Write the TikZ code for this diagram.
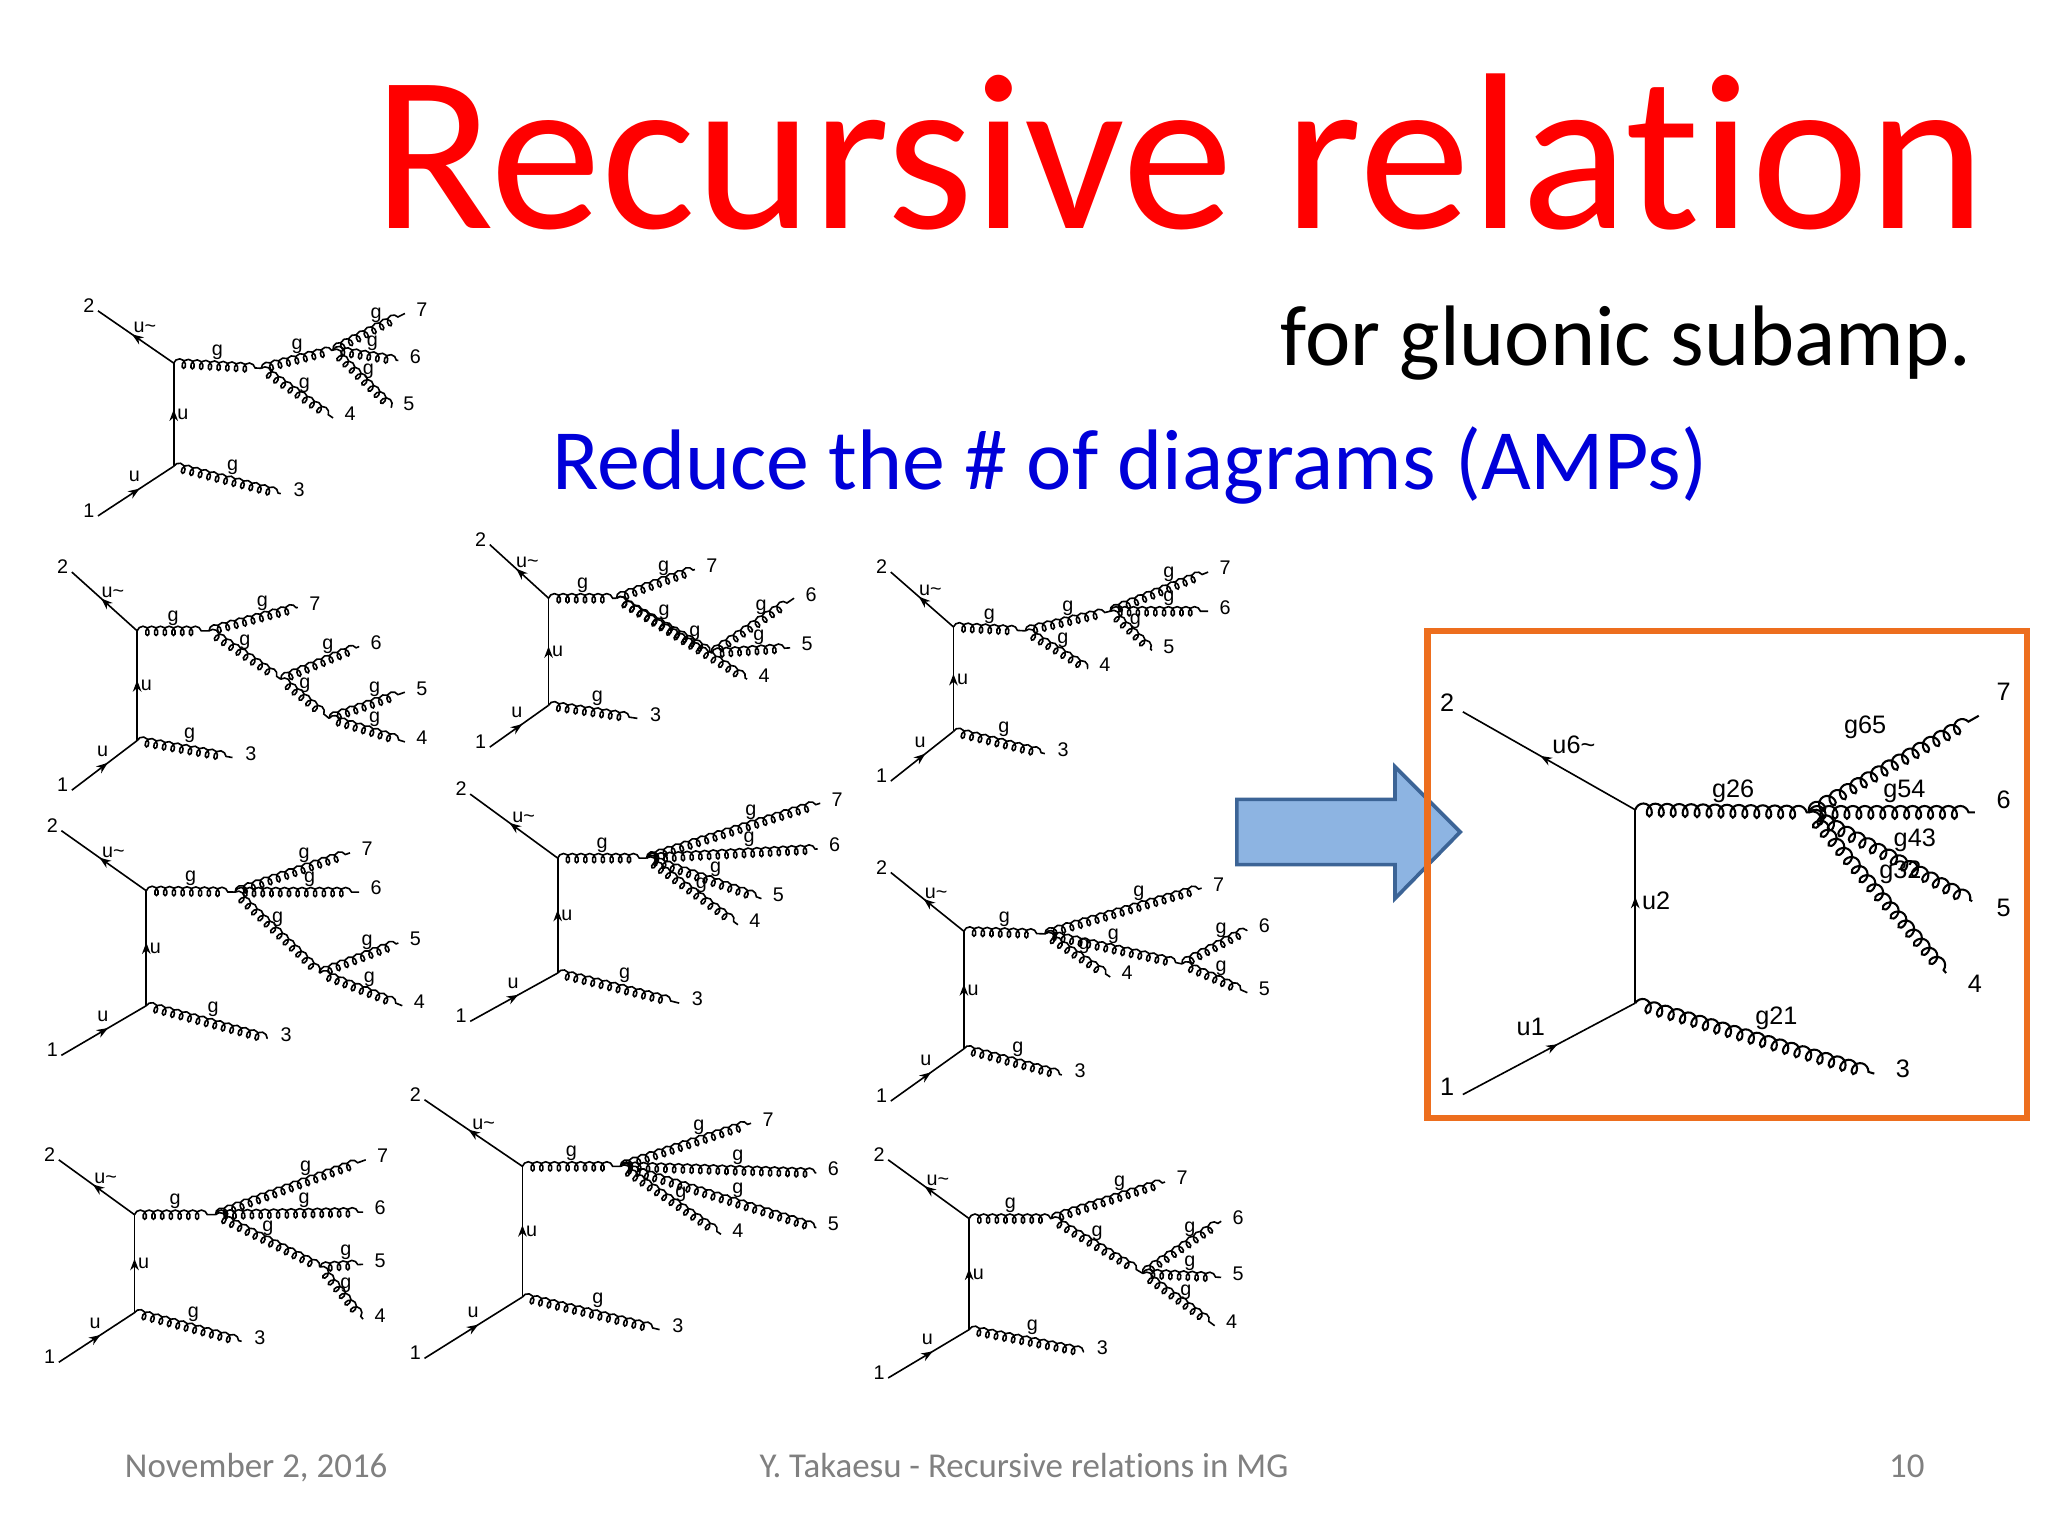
\documentclass[tikz,border=0pt]{standalone}
\usepackage{fontspec}
\setmainfont{Carlito}[Ligatures=NoCommon]
\newfontfamily\lab{Liberation Sans}
\usetikzlibrary{decorations.pathmorphing,decorations.markings,arrows.meta,calc}
\definecolor{boxor}{RGB}{237,110,30}
\definecolor{arrfill}{RGB}{141,180,226}
\definecolor{arrdraw}{RGB}{60,100,150}
\tikzset{
 gl/.style={decorate,decoration={coil,amplitude=1pt,segment length=1.9pt,aspect=0.8},line width=0.35pt},
 glb/.style={decorate,decoration={coil,amplitude=1.4pt,segment length=2.6pt,aspect=0.8},line width=0.45pt},
 fe/.style={line width=0.35pt,postaction={decorate},decoration={markings,mark=at position .55 with {\arrow{Stealth[length=2.5pt]}}}},
 lb/.style={font=\lab\fontsize{4.3}{5}\selectfont,inner sep=0pt},
 lbb/.style={font=\lab\fontsize{5.5}{6}\selectfont,inner sep=0pt}
}
\newcommand\fd[5]{%
 \coordinate (P2) at (#1); \coordinate (B) at (#2); \coordinate (A) at (#3); \coordinate (P1) at (#4); \coordinate (P3) at (#5);
 \draw[fe] (B) -- (P2); \draw[fe] (A) -- (B); \draw[fe] (P1) -- (A); \draw[gl] (A) -- (P3);
 \node[lb] at ($(P2)+(-7,-4)$) {2}; \node[lb] at ($(P1)+(-7,-4)$) {1}; \node[lb] at ($(P3)+(14,-3)$) {3};
 \node[lb] at ($(P2)!0.55!(B)+(4,-9)$) {u\textasciitilde}; \node[lb] at ($(A)!0.5!(B)+(7,0)$) {u};
 \node[lb] at ($(P1)!0.55!(A)+(-4,-9)$) {u}; \node[lb] at ($(A)!0.55!(P3)+(0,-11)$) {g};}
\newcommand\glu[2]{\draw[gl] (#1) -- (#2); \node[lb] at ($(#1)!0.5!(#2)+(0,-10)$) {g};}
\newcommand\glx[3]{\draw[gl] (#1) -- (#2); \node[lb] at ($(#1)!0.6!(#2)+(0,-10)$) {g}; \node[lb] at ($(#2)+(13,-3)$) {#3};}
\begin{document}
\begin{tikzpicture}[x=0.01cm,y=-0.01cm]
\useasboundingbox[fill=white] (0,0) rectangle (1568,1176);
\node[text=red,font=\fontsize{48.5}{58}\selectfont,anchor=base west,inner sep=0] (title) at (285,175) {Recursive relation};
\node[font=\fontsize{18.7}{22}\selectfont,anchor=base east,inner sep=0] (sub) at (1510,280) {for gluonic subamp.};
\node[text=blue!85!black,font=\fontsize{18.7}{22}\selectfont,anchor=base west,inner sep=0] (red) at (422,375) {Reduce the \# of diagrams (AMPs)};
\node[text=gray,font=\fontsize{7.6}{9}\selectfont,anchor=base west,inner sep=0] (date) at (95,1131) {November 2, 2016};
\node[text=gray,font=\fontsize{7.6}{9}\selectfont,anchor=base] (auth) at (784,1131) {Y. Takaesu - Recursive relations in MG};
\node[text=gray,font=\fontsize{7.6}{9}\selectfont,anchor=base] (pg) at (1460,1131) {10};
% D1
\fd{75,238}{133,278}{133,357}{75,395}{215,378}
\glu{133,278}{200,282}\glu{200,282}{255,268}
\glx{255,268}{310,240}{7}\glx{255,268}{305,276}{6}\glx{255,268}{300,312}{5}\glx{200,282}{255,320}{4}
% D2
\fd{55,438}{105,483}{105,567}{55,605}{178,580}
\glu{105,483}{160,483}\glx{160,483}{228,465}{7}\glu{160,483}{215,520}
\glx{215,520}{275,495}{6}\glu{215,520}{252,550}\glx{252,550}{310,530}{5}\glx{252,550}{310,568}{4}
% D3
\fd{375,417}{420,458}{420,540}{375,572}{488,550}
\glu{420,458}{472,458}\glx{472,458}{532,436}{7}\glu{472,458}{545,500}
\glx{545,500}{608,458}{6}\glx{545,500}{605,496}{5}\glx{472,458}{572,520}{4}
% D4
\fd{682,438}{730,480}{730,560}{682,598}{800,577}
\glu{730,480}{785,483}\glu{785,483}{850,468}\glx{850,468}{925,438}{7}\glx{850,468}{925,468}{6}
\glx{850,468}{882,498}{5}\glx{785,483}{833,512}{4}
% D5
\fd{47,636}{112,682}{112,770}{47,808}{205,795}
\glu{112,682}{180,683}\glx{180,683}{275,683}{6}\glx{180,683}{268,653}{7}\glu{180,683}{245,745}
\glx{245,745}{305,722}{5}\glx{245,745}{308,770}{4}
% D6
\fd{360,608}{427,657}{427,745}{360,782}{520,768}
\glu{427,657}{495,657}\glx{495,657}{628,615}{7}\glx{495,657}{626,650}{6}\glx{495,657}{583,688}{5}\glx{495,657}{565,708}{4}
% D7
\fd{682,668}{738,713}{738,803}{682,843}{813,823}
\glu{738,713}{800,715}\glx{800,715}{920,680}{7}\glx{800,715}{850,748}{4}\glu{800,715}{905,738}
\glx{905,738}{955,712}{6}\glx{905,738}{955,760}{5}
% D8
\fd{45,888}{103,930}{103,1005}{45,1043}{185,1027}
\glu{103,930}{165,930}\glx{165,930}{280,888}{7}\glx{165,930}{278,928}{6}\glu{165,930}{245,970}
\glx{245,970}{278,968}{5}\glx{245,970}{278,1010}{4}
% D9
\fd{325,842}{400,893}{400,993}{325,1040}{505,1018}
\glu{400,893}{475,893}\glx{475,893}{575,860}{7}\glx{475,893}{552,945}{4}\glx{475,893}{625,898}{6}\glx{475,893}{625,940}{5}
% D10
\fd{680,888}{742,933}{742,1018}{680,1055}{830,1035}
\glu{742,933}{805,933}\glx{805,933}{892,905}{7}\glu{805,933}{875,975}
\glx{875,975}{935,935}{6}\glx{875,975}{935,978}{5}\glx{875,975}{930,1015}{4}
% arrow
\draw[fill=arrfill,draw=arrdraw,line width=0.8pt]
 (947,612) -- (1068,612) -- (1068,587) -- (1118,637) -- (1068,688) -- (1068,662) -- (947,662) -- cycle;
% big box
\draw[boxor,line width=1.4pt] (1093,483) rectangle (1552,856);
\coordinate (BB) at (1252,620); \coordinate (BA) at (1252,768); \coordinate (BC) at (1385,622);
\coordinate (B2) at (1120,545); \coordinate (B1) at (1120,838);
\draw[fe] (BB) -- (B2); \draw[fe] (BA) -- (BB); \draw[fe] (B1) -- (BA);
\draw[glb] (BA) -- (1435,822); \draw[glb] (BB) -- (BC);
\draw[glb] (BC) -- (1515,548); \draw[glb] (BC) -- (1512,622); \draw[glb] (BC) -- (1510,690); \draw[glb] (BC) -- (1490,745);
\node[lbb] at (1108,538) {2}; \node[lbb] at (1108,832) {1}; \node[lbb] at (1457,818) {3};
\node[lbb] at (1534,530) {7}; \node[lbb] at (1534,612) {6}; \node[lbb] at (1534,695) {5}; \node[lbb] at (1512,753) {4};
\node[lbb] at (1205,570) {u6\textasciitilde}; \node[lbb] at (1268,690) {u2}; \node[lbb] at (1172,786) {u1};
\node[lbb] at (1360,780) {g21}; \node[lbb] at (1327,606) {g26}; \node[lbb] at (1428,557) {g65};
\node[lbb] at (1458,606) {g54}; \node[lbb] at (1466,643) {g43}; \node[lbb] at (1455,668) {g32};
\end{tikzpicture}
\end{document}
